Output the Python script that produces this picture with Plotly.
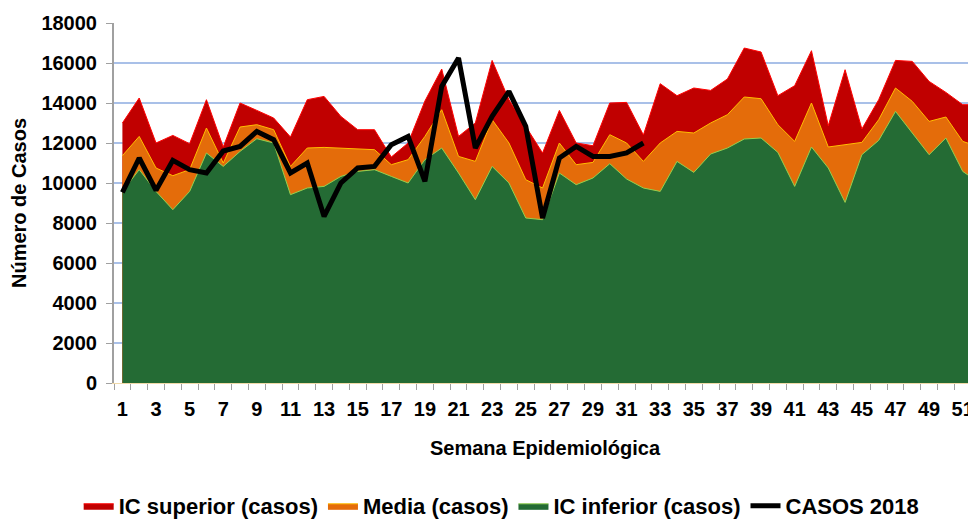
import plotly.graph_objects as go

weeks = list(range(1, 53))

ic_superior = [13000, 14250, 12000, 12380, 11965, 14165, 11800, 14000, 13630, 13250,
               12300, 14165, 14330, 13330, 12665, 12665, 11300, 12000, 14100, 15700,
               12330, 13000, 16130, 14165, 12830, 11500, 13630, 12000, 11865, 14000,
               14030, 12400, 14965, 14365, 14750, 14630, 15200, 16750, 16550, 14365,
               14865, 16615, 12865, 15665, 12700, 14165, 16130, 16080, 15080, 14530,
               13915, 13915]

media = [11365, 12330, 10750, 10365, 10665, 12750, 11000, 12800, 12915, 12665,
         10830, 11750, 11780, 11750, 11700, 11665, 10915, 11165, 12330, 13665,
         11330, 11080, 13165, 12000, 10165, 9750, 12000, 10915, 11030, 12415,
         12000, 11080, 12000, 12580, 12500, 13000, 13415, 14300, 14215, 12915,
         12080, 14000, 11800, 11915, 12030, 13165, 14750, 14080, 13080, 13300,
         12080, 11800]

ic_inferior = [9580, 10665, 9580, 8665, 9580, 11500, 10830, 11580, 12215, 12000,
               9415, 9750, 9830, 10330, 10580, 10665, 10330, 10000, 11165, 11750,
               10500, 9165, 10830, 10000, 8250, 8165, 10500, 9915, 10250, 10965,
               10200, 9750, 9580, 11080, 10530, 11450, 11750, 12200, 12250, 11530,
               9830, 11800, 10750, 9030, 11415, 12130, 13580, 12500, 11415, 12250,
               10580, 10000]

casos_2018 = [9530, 11250, 9630, 11130, 10665, 10500, 11600, 11830, 12580, 12165,
              10500, 11000, 8330, 10000, 10750, 10830, 11915, 12330, 10080, 14830,
              16250, 11750, 13330, 14580, 12830, 8250, 11250, 11830, 11330, 11330,
              11500, 12000]

fam = "Liberation Sans"
def bold(size):
    return dict(family=fam, size=size, color="black", weight="bold")

fig = go.Figure()
fig.add_trace(go.Scatter(x=weeks, y=ic_superior, name="IC superior (casos)",
                         fill="tozeroy", fillcolor="#C00000", mode="lines",
                         line=dict(color="#FF0000", width=1)))
fig.add_trace(go.Scatter(x=weeks, y=media, name="Media (casos)",
                         fill="tozeroy", fillcolor="#E46C0A", mode="lines",
                         line=dict(color="#FFC000", width=1)))
fig.add_trace(go.Scatter(x=weeks, y=ic_inferior, name="IC inferior (casos)",
                         fill="tozeroy", fillcolor="#246B34", mode="lines",
                         line=dict(color="#92D050", width=1)))
fig.add_trace(go.Scatter(x=weeks[:len(casos_2018)], y=casos_2018, name="CASOS 2018",
                         mode="lines", line=dict(color="black", width=5)))

# page body adds 8px margin, so the figure is 8px smaller than the window
fig.update_layout(
    width=968, height=515,
    margin=dict(l=106, r=0, t=15, b=140, autoexpand=False),
    plot_bgcolor="white", paper_bgcolor="white",
    font=bold(20),
    showlegend=True,
    legend=dict(orientation="h", xref="container", yref="container",
                x=0.51, xanchor="center", y=0.033, yanchor="middle",
                font=bold(22), itemwidth=30, traceorder="normal"),
)
fig.update_xaxes(
    range=[0.5, 51.79],
    tickmode="array", tickvals=list(range(1, 53, 2)),
    ticks="", showgrid=False, zeroline=False,
    showline=True, linecolor="#F0D9A8", linewidth=1,
    minor=dict(tick0=0.5, dtick=1, ticks="outside", ticklen=6,
               tickcolor="#A0A0A0", showgrid=False),
    tickfont=bold(20), ticklabelstandoff=8,
    title=dict(text="Semana Epidemiológica", standoff=21, font=bold(20)),
)
fig.update_yaxes(
    range=[0, 18000], dtick=2000, tickformat="d",
    showgrid=True, gridcolor="#A9C0E8", gridwidth=2,
    zeroline=False, showline=True, linecolor="#A0A0A0", linewidth=2,
    ticks="outside", ticklen=6, tickcolor="#A0A0A0",
    tickfont=bold(20), ticklabelstandoff=5,
    title=dict(text="Número de Casos", standoff=10, font=bold(20)),
)

fig.write_html("out.html")
